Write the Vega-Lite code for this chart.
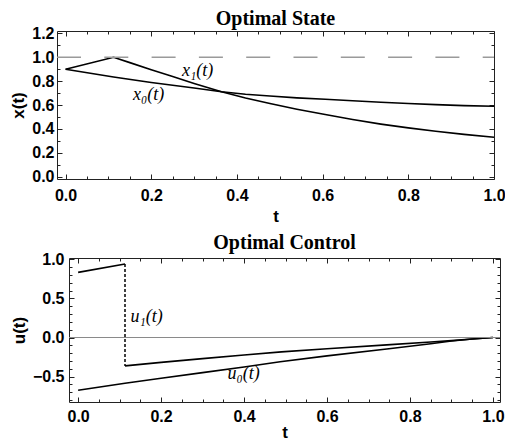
{
  "$schema": "https://vega.github.io/schema/vega-lite/v6.json",
  "background": "white",
  "padding": {"left": 2, "top": 8, "right": 1, "bottom": 1},
  "spacing": 7,
  "datasets": {
    "state": [
      {"series": "x0", "t": 0, "x": 0.9},
      {"series": "x0", "t": 0.112, "x": 0.835},
      {"series": "x0", "t": 0.2, "x": 0.788},
      {"series": "x0", "t": 0.3, "x": 0.742},
      {"series": "x0", "t": 0.364, "x": 0.711},
      {"series": "x0", "t": 0.42, "x": 0.69},
      {"series": "x0", "t": 0.477, "x": 0.675},
      {"series": "x0", "t": 0.54, "x": 0.66},
      {"series": "x0", "t": 0.606, "x": 0.648},
      {"series": "x0", "t": 0.67, "x": 0.635},
      {"series": "x0", "t": 0.736, "x": 0.623},
      {"series": "x0", "t": 0.8, "x": 0.612},
      {"series": "x0", "t": 0.864, "x": 0.603},
      {"series": "x0", "t": 0.93, "x": 0.595},
      {"series": "x0", "t": 1.0, "x": 0.589},
      {"series": "x1", "t": 0, "x": 0.9},
      {"series": "x1", "t": 0.112, "x": 1.0},
      {"series": "x1", "t": 0.15, "x": 0.955},
      {"series": "x1", "t": 0.2, "x": 0.895},
      {"series": "x1", "t": 0.25, "x": 0.838},
      {"series": "x1", "t": 0.3, "x": 0.78},
      {"series": "x1", "t": 0.364, "x": 0.711},
      {"series": "x1", "t": 0.42, "x": 0.658},
      {"series": "x1", "t": 0.477, "x": 0.612},
      {"series": "x1", "t": 0.54, "x": 0.565},
      {"series": "x1", "t": 0.606, "x": 0.52},
      {"series": "x1", "t": 0.67, "x": 0.478},
      {"series": "x1", "t": 0.736, "x": 0.44},
      {"series": "x1", "t": 0.8, "x": 0.408},
      {"series": "x1", "t": 0.864, "x": 0.38},
      {"series": "x1", "t": 0.93, "x": 0.354},
      {"series": "x1", "t": 1.0, "x": 0.33}
    ],
    "stateRef": [{"t0": -0.02, "t1": 1.0, "y": 1.0}],
    "stateLabels": [
      {"label": "x₁(t)", "t": 0.308, "y": 0.883},
      {"label": "x₀(t)", "t": 0.194, "y": 0.685}
    ],
    "control": [
      {"series": "u0", "seg": "a", "t": 0, "u": -0.675},
      {"series": "u0", "seg": "a", "t": 0.113, "u": -0.585},
      {"series": "u0", "seg": "a", "t": 0.2, "u": -0.522},
      {"series": "u0", "seg": "a", "t": 0.3, "u": -0.449},
      {"series": "u0", "seg": "a", "t": 0.4, "u": -0.377},
      {"series": "u0", "seg": "a", "t": 0.487, "u": -0.31},
      {"series": "u0", "seg": "a", "t": 0.6, "u": -0.235},
      {"series": "u0", "seg": "a", "t": 0.744, "u": -0.148},
      {"series": "u0", "seg": "a", "t": 0.85, "u": -0.08},
      {"series": "u0", "seg": "a", "t": 0.9, "u": -0.045},
      {"series": "u0", "seg": "a", "t": 0.95, "u": -0.02},
      {"series": "u0", "seg": "a", "t": 1.0, "u": 0},
      {"series": "u1", "seg": "a", "t": 0, "u": 0.833},
      {"series": "u1", "seg": "a", "t": 0.113, "u": 0.941},
      {"series": "u1", "seg": "b", "t": 0.113, "u": -0.363},
      {"series": "u1", "seg": "b", "t": 0.2, "u": -0.318},
      {"series": "u1", "seg": "b", "t": 0.3, "u": -0.27},
      {"series": "u1", "seg": "b", "t": 0.4, "u": -0.224},
      {"series": "u1", "seg": "b", "t": 0.49, "u": -0.184},
      {"series": "u1", "seg": "b", "t": 0.6, "u": -0.143},
      {"series": "u1", "seg": "b", "t": 0.744, "u": -0.094},
      {"series": "u1", "seg": "b", "t": 0.85, "u": -0.058},
      {"series": "u1", "seg": "b", "t": 0.9, "u": -0.04},
      {"series": "u1", "seg": "b", "t": 0.95, "u": -0.02},
      {"series": "u1", "seg": "b", "t": 1.0, "u": 0}
    ],
    "controlJump": [{"t": 0.113, "u1": 0.941, "u2": -0.363}],
    "controlZero": [{"t0": -0.022, "t1": 1.017, "y": 0}],
    "controlLabels": [
      {"label": "u₁(t)", "t": 0.165, "y": 0.265},
      {"label": "u₀(t)", "t": 0.399, "y": -0.466}
    ],
    "blank": [{"a": 0}]
  },
  "vconcat": [
    {
      "spacing": 0,
      "hconcat": [
        {"width": 1, "height": 1, "data": {"name": "blank"}, "mark": {"type": "point", "opacity": 0}, "view": {"stroke": null}},
        {
          "title": {"text": "Optimal State", "offset": -4},
          "width": 437,
          "height": 148,
          "resolve": {"axis": {"x": "independent", "y": "independent"}},
          "layer": [
            {
              "data": {"name": "state"},
              "transform": [{"filter": "datum.series === 'x0'"}],
              "mark": {"type": "line", "color": "black", "strokeWidth": 1.6},
              "encoding": {
                "x": {"field": "t", "type": "quantitative", "scale": {"domain": [-0.02, 1.0], "nice": false, "zero": false},
                  "axis": {"orient": "bottom", "values": [0, 0.2, 0.4, 0.6, 0.8, 1.0], "format": ".1f", "tickSize": -5, "labelPadding": 13, "title": "t", "titlePadding": 5}},
                "y": {"field": "x", "type": "quantitative", "scale": {"domain": [-0.02, 1.22], "nice": false, "zero": false},
                  "axis": {"orient": "left", "values": [0, 0.2, 0.4, 0.6, 0.8, 1.0, 1.2], "format": ".1f", "tickSize": -5, "labelPadding": 8, "title": "x(t)", "titlePadding": 4}}
              }
            },
            {
              "data": {"name": "state"},
              "transform": [{"filter": "datum.series === 'x1'"}],
              "mark": {"type": "line", "color": "black", "strokeWidth": 1.6},
              "encoding": {
                "x": {"field": "t", "type": "quantitative", "scale": {"domain": [-0.02, 1.0], "nice": false, "zero": false},
                  "axis": {"orient": "bottom", "values": [0.05, 0.1, 0.15, 0.25, 0.3, 0.35, 0.45, 0.5, 0.55, 0.65, 0.7, 0.75, 0.85, 0.9, 0.95], "labels": false, "tickSize": -3, "title": null}},
                "y": {"field": "x", "type": "quantitative", "scale": {"domain": [-0.02, 1.22], "nice": false, "zero": false},
                  "axis": {"orient": "left", "values": [0.1, 0.3, 0.5, 0.7, 0.9, 1.1], "labels": false, "tickSize": -3, "title": null}}
              }
            },
            {
              "data": {"name": "stateRef"},
              "mark": {"type": "rule", "color": "#9a9a9a", "strokeWidth": 1.5, "strokeDash": [24, 23.3]},
              "encoding": {
                "x": {"field": "t0", "type": "quantitative", "scale": {"domain": [-0.02, 1.0], "nice": false, "zero": false},
                  "axis": {"orient": "top", "values": [0, 0.2, 0.4, 0.6, 0.8, 1.0], "labels": false, "tickSize": -5, "title": null}},
                "x2": {"field": "t1"},
                "y": {"field": "y", "type": "quantitative", "scale": {"domain": [-0.02, 1.22], "nice": false, "zero": false},
                  "axis": {"orient": "right", "values": [0, 0.2, 0.4, 0.6, 0.8, 1.0, 1.2], "labels": false, "tickSize": -5, "title": null}}
              }
            },
            {
              "data": {"name": "stateLabels"},
              "mark": {"type": "text", "font": "Liberation Serif", "fontSize": 18, "fontStyle": "italic", "color": "black", "align": "center", "baseline": "middle"},
              "encoding": {
                "x": {"field": "t", "type": "quantitative", "scale": {"domain": [-0.02, 1.0], "nice": false, "zero": false},
                  "axis": {"orient": "top", "values": [0.05, 0.1, 0.15, 0.25, 0.3, 0.35, 0.45, 0.5, 0.55, 0.65, 0.7, 0.75, 0.85, 0.9, 0.95], "labels": false, "tickSize": -3, "title": null}},
                "y": {"field": "y", "type": "quantitative", "scale": {"domain": [-0.02, 1.22], "nice": false, "zero": false},
                  "axis": {"orient": "right", "values": [0.1, 0.3, 0.5, 0.7, 0.9, 1.1], "labels": false, "tickSize": -3, "title": null}},
                "text": {"field": "label"}
              }
            }
          ]
        }
      ]
    },
    {
      "spacing": 0,
      "hconcat": [
        {"width": 1, "height": 1, "data": {"name": "blank"}, "mark": {"type": "point", "opacity": 0}, "view": {"stroke": null}},
        {
          "title": {"text": "Optimal Control", "offset": -2},
          "width": 431,
          "height": 144,
          "resolve": {"axis": {"x": "independent", "y": "independent"}},
          "layer": [
            {
              "data": {"name": "control"},
              "transform": [{"filter": "datum.series === 'u0'"}],
              "mark": {"type": "line", "color": "black", "strokeWidth": 1.6},
              "encoding": {
                "x": {"field": "t", "type": "quantitative", "scale": {"domain": [-0.022, 1.017], "nice": false, "zero": false},
                  "axis": {"orient": "bottom", "values": [0, 0.2, 0.4, 0.6, 0.8, 1.0], "format": ".1f", "tickSize": -5, "labelPadding": 11, "title": "t", "titlePadding": 0}},
                "y": {"field": "u", "type": "quantitative", "scale": {"domain": [-0.825, 1.017], "nice": false, "zero": false},
                  "axis": {"orient": "left", "values": [-0.5, 0, 0.5, 1.0], "format": ".1f", "tickSize": -5, "labelPadding": 10, "title": "u(t)", "titlePadding": 4}}
              }
            },
            {
              "data": {"name": "control"},
              "transform": [{"filter": "datum.series === 'u1'"}],
              "mark": {"type": "line", "color": "black", "strokeWidth": 1.6},
              "encoding": {
                "x": {"field": "t", "type": "quantitative", "scale": {"domain": [-0.022, 1.017], "nice": false, "zero": false},
                  "axis": {"orient": "bottom", "values": [0.05, 0.1, 0.15, 0.25, 0.3, 0.35, 0.45, 0.5, 0.55, 0.65, 0.7, 0.75, 0.85, 0.9, 0.95], "labels": false, "tickSize": -3, "title": null}},
                "y": {"field": "u", "type": "quantitative", "scale": {"domain": [-0.825, 1.017], "nice": false, "zero": false},
                  "axis": {"orient": "left", "values": [-0.8, -0.7, -0.6, -0.4, -0.3, -0.2, -0.1, 0.1, 0.2, 0.3, 0.4, 0.6, 0.7, 0.8, 0.9], "labels": false, "tickSize": -3, "title": null}},
                "detail": {"field": "seg"}
              }
            },
            {
              "data": {"name": "controlJump"},
              "mark": {"type": "rule", "color": "black", "strokeWidth": 1.5, "strokeDash": [3, 2]},
              "encoding": {
                "x": {"field": "t", "type": "quantitative", "scale": {"domain": [-0.022, 1.017], "nice": false, "zero": false},
                  "axis": {"orient": "top", "values": [0, 0.2, 0.4, 0.6, 0.8, 1.0], "labels": false, "tickSize": -5, "title": null}},
                "y": {"field": "u1", "type": "quantitative", "scale": {"domain": [-0.825, 1.017], "nice": false, "zero": false},
                  "axis": {"orient": "right", "values": [-0.5, 0, 0.5, 1.0], "labels": false, "tickSize": -5, "title": null}},
                "y2": {"field": "u2"}
              }
            },
            {
              "data": {"name": "controlZero"},
              "mark": {"type": "rule", "color": "#8a8a8a", "strokeWidth": 1.2},
              "encoding": {
                "x": {"field": "t0", "type": "quantitative", "scale": {"domain": [-0.022, 1.017], "nice": false, "zero": false},
                  "axis": {"orient": "top", "values": [0.05, 0.1, 0.15, 0.25, 0.3, 0.35, 0.45, 0.5, 0.55, 0.65, 0.7, 0.75, 0.85, 0.9, 0.95], "labels": false, "tickSize": -3, "title": null}},
                "x2": {"field": "t1"},
                "y": {"field": "y", "type": "quantitative", "scale": {"domain": [-0.825, 1.017], "nice": false, "zero": false},
                  "axis": {"orient": "right", "values": [-0.8, -0.7, -0.6, -0.4, -0.3, -0.2, -0.1, 0.1, 0.2, 0.3, 0.4, 0.6, 0.7, 0.8, 0.9], "labels": false, "tickSize": -3, "title": null}}
              }
            },
            {
              "data": {"name": "controlLabels"},
              "mark": {"type": "text", "font": "Liberation Serif", "fontSize": 18, "fontStyle": "italic", "color": "black", "align": "center", "baseline": "middle"},
              "encoding": {
                "x": {"field": "t", "type": "quantitative", "scale": {"domain": [-0.022, 1.017], "nice": false, "zero": false}, "axis": null},
                "y": {"field": "y", "type": "quantitative", "scale": {"domain": [-0.825, 1.017], "nice": false, "zero": false}, "axis": null},
                "text": {"field": "label"}
              }
            }
          ]
        }
      ]
    }
  ],
  "config": {
    "view": {"stroke": "#222", "strokeWidth": 1},
    "axis": {
      "grid": false,
      "domain": false,
      "minExtent": 0,
      "tickColor": "#222",
      "tickWidth": 1,
      "labelFont": "Liberation Sans",
      "labelFontWeight": "bold",
      "labelFontSize": 16,
      "labelColor": "black",
      "labelFlush": false,
      "titleFont": "Liberation Sans",
      "titleFontWeight": "bold",
      "titleFontSize": 17,
      "titleColor": "black"
    },
    "title": {"font": "Liberation Serif", "fontSize": 20, "fontWeight": "bold", "color": "black", "frame": "group", "anchor": "middle"}
  }
}
